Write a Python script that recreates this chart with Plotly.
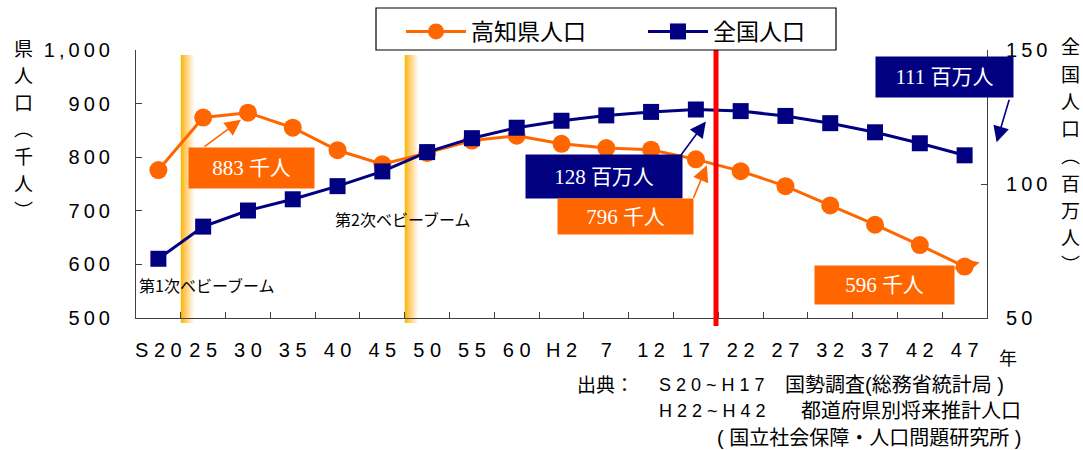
import plotly.graph_objects as go

# ---------------- data ----------------
x_labels = ["S20", "25", "30", "35", "40", "45", "50", "55", "60", "H2",
            "7", "12", "17", "22", "27", "32", "37", "42", "47"]
kochi_pop = [776, 874, 883, 855, 813, 787, 808, 831, 840, 825,
             817, 814, 796, 774, 746, 710, 674, 636, 596]          # 千人
japan_pop = [72.1, 84.1, 90.1, 94.3, 99.2, 104.7, 111.9, 117.1, 121.0, 123.6,
             125.6, 126.9, 127.8, 127.2, 125.4, 122.7, 119.3, 115.2, 110.7]  # 百万人
left_ticks = [500, 600, 700, 800, 900, 1000]
left_tick_labels = ["500", "600", "700", "800", "900", "1,000"]
right_ticks = [50, 100, 150]
right_tick_labels = ["50", "100", "150"]
series_names = ["高知県人口", "全国人口"]

ORANGE = "#FF6600"
NAVY = "#000080"
LAT = "Liberation Sans, Arial, Noto Sans CJK JP"
CJK = "Noto Sans CJK JP, Liberation Sans"
SERIF = "Liberation Serif, Noto Sans CJK JP"

W, H = 1083, 450
L, R, T, B = 136, 987, 50, 318


def px_x(p):
    return (p - L) / (R - L)


def px_y(p):
    return (B - p) / (B - T)


def spaced(s, sep=" "):
    return sep.join(list(s))


def idx(label):
    return x_labels.index(label)


fig = go.Figure()
fig.add_trace(go.Scatter(
    x=x_labels, y=kochi_pop, name=series_names[0], mode="lines+markers",
    line=dict(color=ORANGE, width=3),
    marker=dict(symbol="circle", size=18, color=ORANGE),
    yaxis="y"))
fig.add_trace(go.Scatter(
    x=x_labels, y=japan_pop, name=series_names[1], mode="lines+markers",
    line=dict(color=NAVY, width=3),
    marker=dict(symbol="square", size=16, color=NAVY),
    yaxis="y2"))

shapes = []
# baby-boom gradient bands (yellow fading to white)
n = 14
band_w = 0.32
for boundary in (0.5, 5.5):
    for i in range(n):
        t = i / (n - 1)
        r = 255 if i else 250
        g = int(185 + (255 - 185) * t ** 1.1)
        b = int(0 + (255 - 0) * t ** 0.8)
        shapes.append(dict(
            type="rect", xref="x", yref="paper",
            x0=boundary + band_w * i / n, x1=boundary + band_w * (i + 1) / n + 0.005,
            y0=px_y(323), y1=px_y(55),
            fillcolor=f"rgb({r},{g},{b})", line=dict(width=0), layer="below"))
# red "now" line
shapes.append(dict(type="line", xref="x", yref="paper", x0=12.45, x1=12.45,
                   y0=px_y(326), y1=1.0,
                   line=dict(color="#FF0000", width=5), layer="above"))
# legend frame
shapes.append(dict(type="rect", xref="paper", yref="paper",
                   x0=px_x(376), x1=px_x(836), y0=px_y(50), y1=px_y(8),
                   line=dict(color="black", width=1.2), fillcolor="rgba(0,0,0,0)",
                   layer="above"))

annotations = []


def box(text, cx, cy, w, h, color):
    annotations.append(dict(
        text=text, xref="paper", yref="paper", x=px_x(cx), y=px_y(cy),
        xanchor="center", yanchor="middle", showarrow=False,
        width=w, height=h, bgcolor=color, borderpad=0,
        font=dict(family=SERIF, size=21, color="white")))


def arrow(xi, yval, yref, ax, ay, xs, ys, color):
    annotations.append(dict(
        text="", x=xi, y=yval, xref="x", yref=yref,
        xshift=xs, yshift=ys, ax=ax, ay=ay, showarrow=True,
        arrowhead=2, arrowsize=2, arrowwidth=1.6, arrowcolor=color))


# arrows (drawn first so boxes cover tails); yshift > 0 moves up
arrow(idx("30"), kochi_pop[2], "y", -38, 28, -7, -7, ORANGE)
arrow(idx("17"), japan_pop[12], "y2", -26, 35, 10, -12, NAVY)
arrow(idx("17"), kochi_pop[12], "y", -14, 34, 11, -6, ORANGE)
arrow(idx("47"), kochi_pop[18], "y", -26, 6, 15, 4, ORANGE)
arrow(idx("47"), japan_pop[18], "y2", 13, -44, 32, 13, NAVY)

box("883 千人", 251.5, 168, 125, 40, ORANGE)
box("128 百万人", 604, 176.5, 156, 43, NAVY)
box("796 千人", 625.5, 216.5, 135, 35, ORANGE)
box("596 千人", 884.5, 285, 139, 38, ORANGE)
box("111 百万人", 944.5, 77, 137, 40, NAVY)

# baby boom labels
annotations.append(dict(text="第1次ベビーブーム", xref="paper", yref="paper",
                        x=px_x(137), y=px_y(285), xanchor="left", yanchor="middle",
                        showarrow=False, font=dict(family=CJK, size=16, color="black")))
annotations.append(dict(text="第2次ベビーブーム", xref="paper", yref="paper",
                        x=px_x(333), y=px_y(219), xanchor="left", yanchor="middle",
                        showarrow=False, font=dict(family=CJK, size=16, color="black")))


# axis titles (vertical, one character per annotation)
def vtitle(chars, cx, cy0, step):
    for k, ch in enumerate(chars):
        annotations.append(dict(text=ch, xref="paper", yref="paper",
                                x=px_x(cx), y=px_y(cy0 + k * step),
                                xanchor="center", yanchor="middle",
                                showarrow=False,
                                font=dict(family=CJK, size=19, color="black")))


vtitle("県人口︵千人︶", 23, 47, 27.0)
vtitle("全国人口︵百万人︶", 1070, 46, 27.2)

annotations.append(dict(text="年", xref="paper", yref="paper",
                        x=px_x(1008), y=px_y(357), xanchor="center", yanchor="middle",
                        showarrow=False, font=dict(family=CJK, size=18, color="black")))

# source text
src = [
    dict(text="出典：", x=px_x(575), y=px_y(385), xanchor="left", size=19),
    dict(text="S 2 0 ~ H 1 7", x=px_x(657), y=px_y(385), xanchor="left", size=18),
    dict(text="国勢調査(総務省統計局 )", x=px_x(1006), y=px_y(385), xanchor="right", size=20),
    dict(text="H 2 2 ~ H 4 2", x=px_x(657), y=px_y(411), xanchor="left", size=18),
    dict(text="都道府県別将来推計人口", x=px_x(1023), y=px_y(411), xanchor="right", size=20),
    dict(text="( 国立社会保障・人口問題研究所 )", x=px_x(1023), y=px_y(438), xanchor="right", size=20),
]
for a in src:
    size = a.pop("size")
    a.update(xref="paper", yref="paper", yanchor="middle", showarrow=False,
             font=dict(family=LAT, size=size, color="black"))
annotations += src

axis_common = dict(showline=True, linecolor="#404040", linewidth=1.2,
                   ticks="inside", ticklen=6, tickcolor="#404040",
                   tickfont=dict(family=LAT, size=20, color="black"),
                   showgrid=False, zeroline=False, automargin=False)

fig.update_layout(
    width=W, height=H,
    margin=dict(l=L, r=W - R, t=T, b=H - B, pad=0, autoexpand=False),
    paper_bgcolor="white", plot_bgcolor="white",
    showlegend=True,
    legend=dict(orientation="h", x=px_x(401), y=px_y(10), xanchor="left", yanchor="top",
                borderwidth=0, bgcolor="rgba(0,0,0,0)",
                font=dict(family=CJK, size=23, color="black"),
                itemwidth=60, entrywidth=167, entrywidthmode="pixels"),
    xaxis=dict(type="category", categoryorder="array", categoryarray=x_labels,
               tickvals=x_labels, ticktext=[spaced(s) for s in x_labels],
               range=[-0.5, len(x_labels) - 0.5], tickangle=0,
               tickson="boundaries", ticklabelstandoff=14, fixedrange=True,
               **axis_common),
    yaxis=dict(range=[500, 1000], tickvals=left_ticks,
               ticktext=[spaced(s, "\u2009") for s in left_tick_labels],
               ticklabelstandoff=21, **axis_common),
    yaxis2=dict(range=[50, 150], tickvals=right_ticks,
                ticktext=[spaced(s, "\u2009") for s in right_tick_labels],
                overlaying="y", side="right",
                ticklabelstandoff=14, **axis_common),
    shapes=shapes,
    annotations=annotations,
)

fig.write_html("out.html",
               config={"displayModeBar": False},
               post_script="document.body.style.margin='0';"
                           "document.body.style.overflow='hidden';")
